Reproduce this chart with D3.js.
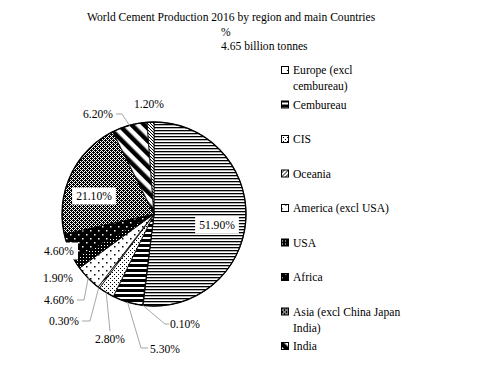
<!DOCTYPE html>
<html>
<head>
<meta charset="utf-8">
<script src="https://cdn.jsdelivr.net/npm/d3@7"></script>
<style>
  body { margin: 0; background: #fff; }
</style>
</head>
<body>
<div id="chart"></div>
<script>
// slices, clockwise from 12 o'clock
const categories = ['China', 'Europe (excl cembureau)', 'Cembureau', 'CIS', 'Oceania',
  'America (excl USA)', 'USA', 'Africa', 'Asia (excl China Japan India)', 'India', 'Japan']
const shares = [51.9, 0.1, 5.3, 2.8, 0.3, 4.6, 1.9, 4.6, 21.1, 6.2, 1.2]
// only these entries fit into the legend box
const legendNames = ['Europe (excl cembureau)', 'Cembureau', 'CIS', 'Oceania', 'America (excl USA)',
  'USA', 'Africa', 'Asia (excl China Japan India)', 'India']
const legendLines = [['Europe (excl', 'cembureau)'], ['Cembureau'], ['CIS'], ['Oceania'],
  ['America (excl USA)'], ['USA'], ['Africa'], ['Asia (excl China Japan', 'India)'], ['India']]
const titleLines = ['World Cement Production 2016 by region and main Countries', '%', '4.65 billion tonnes']

const width = 481
const height = 379
const cx = 154
const cy = 214
const radius = 92
const FONT = '"Times New Roman", "Liberation Serif", serif'
const FONT_SIZE = '11.6px'

const svg = d3.select('#chart')
  .append('svg')
  .attr('width', width)
  .attr('height', height)
  .attr('font-family', FONT)
  .style('display', 'block')

const defs = svg.append('defs')

function makePattern(id, w, h, draw, transform) {
  const p = defs.append('pattern')
    .attr('id', id)
    .attr('patternUnits', 'userSpaceOnUse')
    .attr('width', w)
    .attr('height', h)
  if (transform) p.attr('patternTransform', transform)
  p.append('rect').attr('width', w).attr('height', h).attr('fill', '#fff')
  draw(p)
}

function dots(p, pts, color) {
  pts.forEach(([x, y, s]) => {
    p.append('rect').attr('x', x).attr('y', y).attr('width', s || 1).attr('height', s || 1).attr('fill', color || '#000')
  })
}

makePattern('p-china', 4, 3, p => p.append('rect').attr('width', 4).attr('height', 1.3).attr('fill', '#000'))
makePattern('p-europe', 6, 6, p => dots(p, [[0, 0]]))
makePattern('p-cemb', 4, 5, p => p.append('rect').attr('width', 4).attr('height', 3).attr('fill', '#000'))
makePattern('p-cis', 4, 4, p => dots(p, [[0, 0], [2, 2]]))
makePattern('p-ocean', 4, 4, p => p.append('path').attr('d', 'M0,4L4,0M-1,1L1,-1M3,5L5,3').attr('stroke', '#000').attr('stroke-width', 1))
makePattern('p-america', 8, 8, p => dots(p, [[0, 0, 1.5], [4, 4, 1.5]]))
makePattern('p-usa', 3, 3, p => {
  p.select('rect').attr('fill', '#000')
  dots(p, [[1, 1]], '#fff')
})
makePattern('p-africa', 8, 8, p => {
  p.select('rect').attr('fill', '#000')
  dots(p, [[0, 0, 1.5], [4, 4, 1.5]], '#fff')
})
makePattern('p-asia', 4, 4, p => dots(p, [[0, 0], [1, 1], [2, 0], [3, 1], [0, 2], [1, 3], [2, 2], [3, 3], [1, 0], [3, 2]]))
makePattern('p-india', 9, 9, p => p.append('rect').attr('width', 4.5).attr('height', 9).attr('fill', '#000'), 'rotate(-45)')
makePattern('p-japan', 3, 3, p => dots(p, [[0, 0], [1, 1], [2, 2]]))

const patternIds = ['p-china', 'p-europe', 'p-cemb', 'p-cis', 'p-ocean', 'p-america', 'p-usa',
  'p-africa', 'p-asia', 'p-india', 'p-japan']
const fillOf = d3.scaleOrdinal().domain(categories).range(patternIds.map(id => `url(#${id})`))

const slices = categories.map((name, i) => ({ name, value: shares[i] }))
const pie = d3.pie().sort(null).value(d => d.value)
const arcs = pie(slices)
const arc = d3.arc().innerRadius(0).outerRadius(radius)

// title
svg.append('g')
  .attr('class', 'title')
  .selectAll('text')
  .data(titleLines)
  .enter()
  .append('text')
  .attr('x', (d, i) => [87, 221, 221][i])
  .attr('y', (d, i) => 21 + i * 14.5)
  .attr('font-size', FONT_SIZE)
  .attr('fill', '#000')
  .text(d => d)

const gPie = svg.append('g').attr('transform', `translate(${cx}, ${cy})`)

gPie.selectAll('path.slice')
  .data(arcs)
  .enter()
  .append('path')
  .attr('class', 'slice')
  .attr('d', arc)
  .attr('fill', d => fillOf(d.data.name))
  .attr('stroke', '#000')
  .attr('stroke-width', 0.8)
  .attr('stroke-linejoin', 'round')

gPie.append('circle')
  .attr('r', radius)
  .attr('fill', 'none')
  .attr('stroke', '#000')
  .attr('stroke-width', 1.3)

// label layout: text centre (x, y) in page coords, leader elbow, white box
const labelLayout = {
  'China': { x: 217, y: 225, box: true },
  'Europe (excl cembureau)': { x: 185, y: 324, elbow: [165, 324], end: 169 },
  'Cembureau': { x: 165, y: 349, elbow: [141, 348], end: 148 },
  'CIS': { x: 110, y: 339, elbow: [110, 331], end: 110 },
  'Oceania': { x: 64, y: 321, elbow: [90, 321], end: 82 },
  'America (excl USA)': { x: 59, y: 300, elbow: [84, 300], end: 77 },
  'USA': { x: 58, y: 278 },
  'Africa': { x: 59, y: 251, box: true },
  'Asia (excl China Japan India)': { x: 94, y: 196, box: true },
  'India': { x: 98, y: 114, elbow: [122, 114], end: 116 },
  'Japan': { x: 149, y: 104 }
}

const gLabels = svg.append('g').attr('class', 'labels')

arcs.forEach(d => {
  const L = labelLayout[d.data.name]
  const mid = (d.startAngle + d.endAngle) / 2
  const ax = cx + radius * Math.sin(mid)
  const ay = cy - radius * Math.cos(mid)
  if (L.elbow) {
    gLabels.append('polyline')
      .attr('points', [[ax, ay], L.elbow, [L.end, L.elbow[1]]].map(p => p.join(',')).join(' '))
      .attr('fill', 'none')
      .attr('stroke', '#a6a6a6')
      .attr('stroke-width', 1)
  }
  const box = L.box ? gLabels.append('rect').attr('fill', '#ffffff') : null
  const text = gLabels.append('text')
    .attr('x', L.x)
    .attr('y', L.y)
    .attr('dy', '0.35em')
    .attr('text-anchor', 'middle')
    .attr('font-size', FONT_SIZE)
    .attr('fill', '#000')
    .text(d3.format('.2f')(d.data.value) + '%')
  if (box) {
    const w = text.node().getComputedTextLength() + 8
    box.attr('x', L.x - w / 2)
      .attr('y', L.y - 8.5)
      .attr('width', w)
      .attr('height', 17)
  }
})

// legend
const gLegend = svg.append('g').attr('class', 'legend')
const legendY = d3.scaleLinear().domain([0, legendNames.length - 1]).range([70, 346])

legendNames.forEach((name, i) => {
  const y = legendY(i)
  const g = gLegend.append('g').attr('transform', `translate(281, ${y})`)
  g.append('rect')
    .attr('x', 0.5)
    .attr('y', -3.5)
    .attr('width', 7)
    .attr('height', 7)
    .attr('fill', fillOf(name))
    .attr('stroke', '#000')
    .attr('stroke-width', 1)
  g.selectAll('text')
    .data(legendLines[i])
    .enter()
    .append('text')
    .attr('x', 12)
    .attr('y', (d, j) => j * 16)
    .attr('dy', '0.35em')
    .attr('font-size', FONT_SIZE)
    .attr('fill', '#000')
    .text(d => d)
})
</script>
</body>
</html>
